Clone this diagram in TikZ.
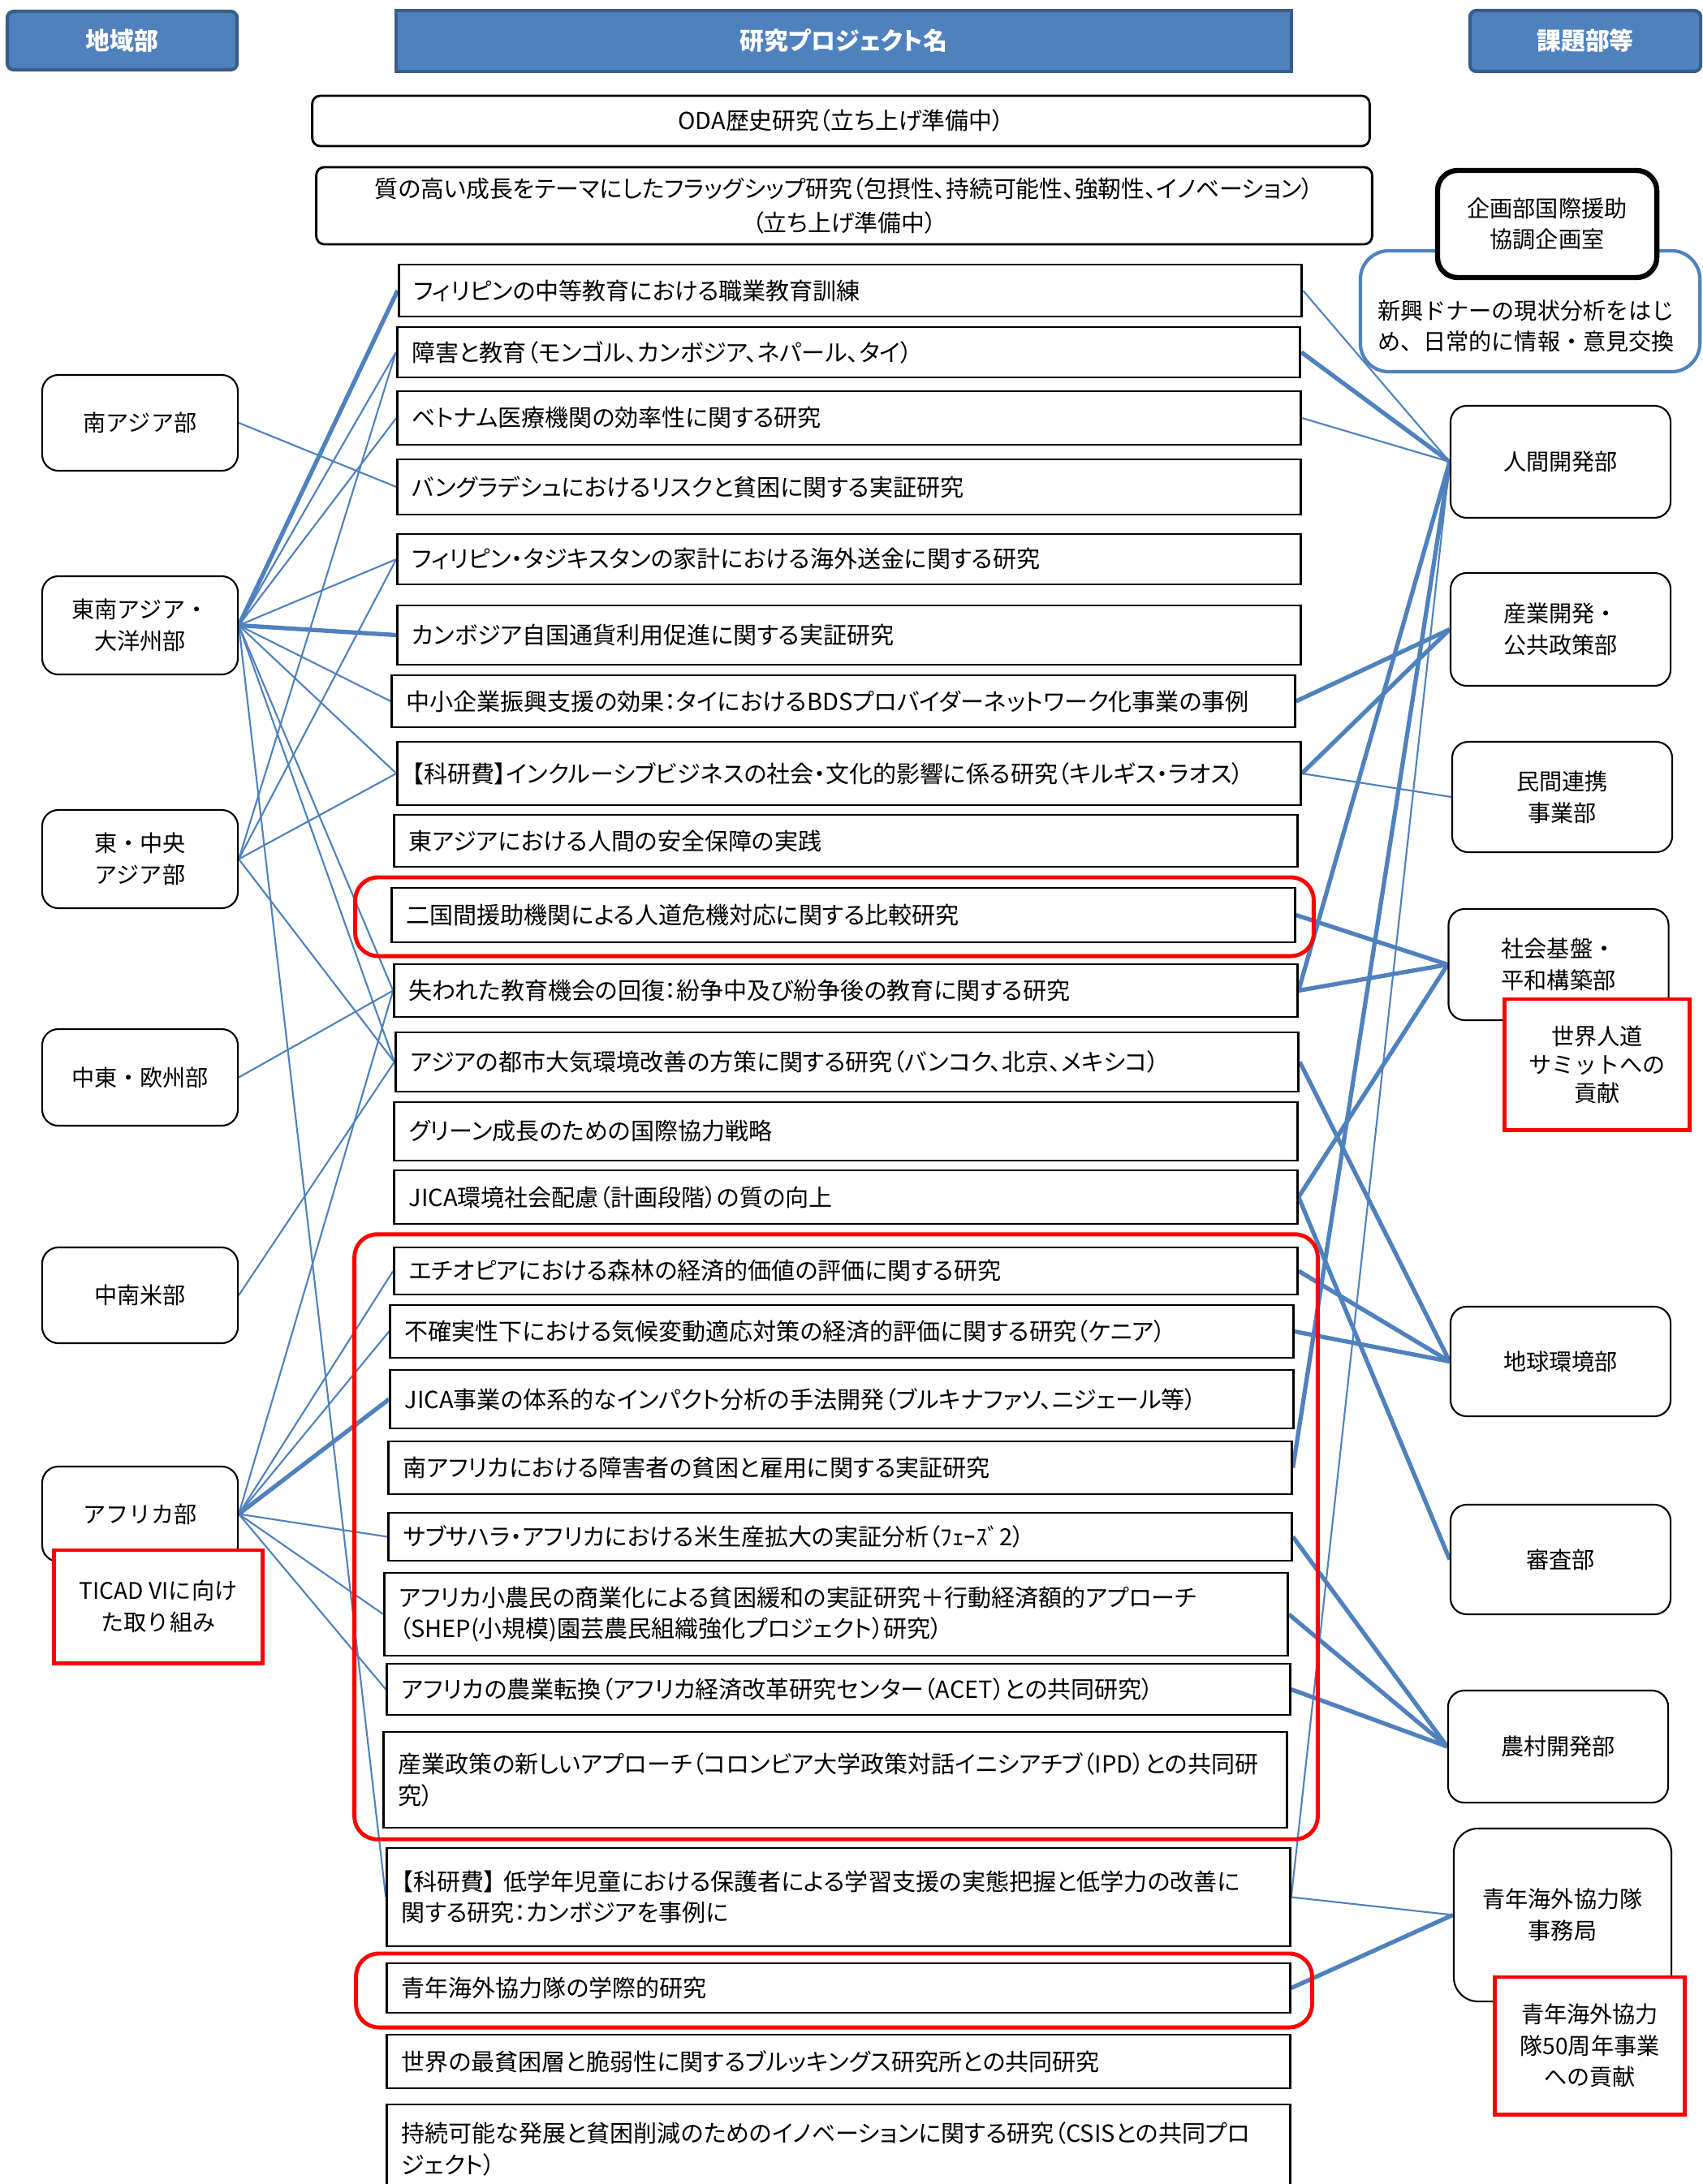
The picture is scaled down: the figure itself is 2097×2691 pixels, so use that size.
\documentclass[tikz,border=0pt]{standalone}
\usepackage{fontspec}
\setmainfont{Noto Sans CJK JP}[RawFeature=+palt]
\newfontfamily\deptfont{Noto Sans CJK JP}
\usetikzlibrary{backgrounds}
\definecolor{linkblue}{HTML}{4F81BD}
\definecolor{headedge}{HTML}{385D8A}
\definecolor{notered}{HTML}{FF0000}

\tikzset{
  head/.style={draw=headedge, line width=1.2pt, fill=linkblue, rounded corners=0.08cm, text=white, font=\bfseries\fontsize{8.5}{10}\selectfont},
  topbox/.style={draw, line width=0.8pt, rounded corners=0.1cm, align=center, font=\fontsize{8.2}{12}\selectfont},
  proj/.style={draw, line width=0.8pt, fill=white, text width=10.76cm, align=left, inner xsep=0.18cm, inner ysep=0pt, font=\fontsize{8.25}{11}\selectfont},
  dept/.style={draw, line width=0.6pt, fill=white, rounded corners=0.2cm, align=center, font=\deptfont\fontsize{8}{11}\selectfont},
  note/.style={draw=notered, line width=1.4pt, fill=white, align=center, font=\deptfont\fontsize{8}{11}\selectfont},
  redframe/.style={draw=notered, line width=1.4pt, rounded corners=0.28cm},
  tie/.style={draw=linkblue, line width=0.6pt},
  tiebold/.style={draw=linkblue, line width=1.5pt},
}

\begin{document}
\begin{tikzpicture}[x=0.01cm, y=-0.01cm]
        \useasboundingbox (0,0) rectangle (2097,2691);

        \node[head, minimum width=2.83cm, minimum height=0.72cm] (hregion) at (150.5,50) {地域部};
        \node[head, rounded corners=0pt, minimum width=11.03cm, minimum height=0.75cm] (hproject) at (1039.5,50.5) {研究プロジェクト名};
        \node[head, minimum width=2.84cm, minimum height=0.75cm] (htopic) at (1953,50.5) {課題部等};

        \node[topbox, minimum width=13.02cm, minimum height=0.62cm] (oda) at (1036,149) {ODA歴史研究（立ち上げ準備中）};
        \node[topbox, minimum width=13.00cm, minimum height=0.95cm] (flagship) at (1040,253.5) {質の高い成長をテーマにしたフラッグシップ研究（包摂性、持続可能性、強靭性、イノベーション）\\（立ち上げ準備中）};

        \node[draw=linkblue, line width=1.2pt, rounded corners=0.35cm, fill=white, minimum width=4.18cm, minimum height=1.49cm] (donor) at (1885,383.5) {};
        \node[font=\deptfont\fontsize{8}{11}\selectfont, align=left] (donortext) at (1880,402) {新興ドナーの現状分析をはじ\\め、日常的に情報・意見交換};
        \node[dept, line width=1.8pt, rounded corners=0.25cm, minimum width=2.70cm, minimum height=1.32cm] (plan) at (1906,276) {企画部国際援助\\協調企画室};

        \node[proj, minimum height=0.64cm] (p1) at (1047.5,358) {フィリピンの中等教育における職業教育訓練};
        \node[proj, minimum height=0.62cm] (p2) at (1045.5,434) {障害と教育（モンゴル、カンボジア、ネパール、タイ）};
        \node[proj, minimum height=0.66cm] (p3) at (1046,515) {ベトナム医療機関の効率性に関する研究};
        \node[proj, minimum height=0.68cm] (p4) at (1046,600) {バングラデシュにおけるリスクと貧困に関する実証研究};
        \node[proj, minimum height=0.62cm] (p5) at (1046,689) {フィリピン・タジキスタンの家計における海外送金に関する研究};
        \node[proj, minimum height=0.73cm] (p6) at (1046,782.5) {カンボジア自国通貨利用促進に関する実証研究};
        \node[proj, minimum height=0.64cm] (p7) at (1039,864) {中小企業振興支援の効果：タイにおけるBDSプロバイダーネットワーク化事業の事例};
        \node[proj, minimum height=0.78cm] (p8) at (1046,953) {【科研費】インクルーシブビジネスの社会・文化的影響に係る研究（キルギス・ラオス）};
        \node[proj, minimum height=0.64cm] (p9) at (1042,1036) {東アジアにおける人間の安全保障の実践};
        \node[proj, minimum height=0.67cm] (p10) at (1039,1127.5) {二国間援助機関による人道危機対応に関する比較研究};
        \node[proj, minimum height=0.65cm] (p11) at (1042,1220.5) {失われた教育機会の回復：紛争中及び紛争後の教育に関する研究};
        \node[proj, minimum height=0.73cm] (p12) at (1043.5,1308.5) {アジアの都市大気環境改善の方策に関する研究（バンコク、北京、メキシコ）};
        \node[proj, minimum height=0.72cm] (p13) at (1042,1394) {グリーン成長のための国際協力戦略};
        \node[proj, minimum height=0.66cm] (p14) at (1042,1475) {JICA環境社会配慮（計画段階）の質の向上};
        \node[proj, minimum height=0.58cm] (p15) at (1042,1566) {エチオピアにおける森林の経済的価値の評価に関する研究};
        \node[proj, minimum height=0.65cm] (p16) at (1037,1640.5) {不確実性下における気候変動適応対策の経済的評価に関する研究（ケニア）};
        \node[proj, minimum height=0.72cm] (p17) at (1037,1724) {JICA事業の体系的なインパクト分析の手法開発（ブルキナファソ、ニジェール等）};
        \node[proj, minimum height=0.65cm] (p18) at (1035,1808.5) {南アフリカにおける障害者の貧困と雇用に関する実証研究};
        \node[proj, minimum height=0.59cm] (p19) at (1035,1893.5) {サブサハラ・アフリカにおける米生産拡大の実証分析（ﾌｪｰｽﾞ2）};
        \node[proj, minimum height=1.02cm] (p20) at (1030,1989) {アフリカ小農民の商業化による貧困緩和の実証研究＋行動経済額的アプローチ\\（SHEP(小規模)園芸農民組織強化プロジェクト）研究）};
        \node[proj, minimum height=0.63cm] (p21) at (1033,2081.5) {アフリカの農業転換（アフリカ経済改革研究センター（ACET）との共同研究）};
        \node[proj, minimum height=1.18cm] (p22) at (1029,2193) {産業政策の新しいアプローチ（コロンビア大学政策対話イニシアチブ（IPD）との共同研\\究）};
        \node[proj, minimum height=1.21cm] (p23) at (1033,2337.5) {【科研費】~低学年児童における保護者による学習支援の実態把握と低学力の改善に\\関する研究：カンボジアを事例に};
        \node[proj, minimum height=0.61cm] (p24) at (1033,2449.5) {青年海外協力隊の学際的研究};
        \node[proj, minimum height=0.66cm] (p25) at (1033,2540) {世界の最貧困層と脆弱性に関するブルッキングス研究所との共同研究};
        \node[proj, minimum height=1.10cm] (p26) at (1033,2648) {持続可能な発展と貧困削減のためのイノベーションに関する研究（CSISとの共同プロ\\ジェクト）};

        \node[redframe, minimum width=11.80cm, minimum height=0.97cm] (fr10) at (1028,1129.5) {};
        \node[redframe, minimum width=11.86cm, minimum height=7.45cm] (frafrica) at (1030,1893.5) {};
        \node[redframe, minimum width=11.77cm, minimum height=0.91cm] (fr24) at (1027.5,2452.5) {};

        \node[dept, minimum width=2.41cm, minimum height=1.18cm] (sa) at (172.5,521) {南アジア部};
        \node[dept, minimum width=2.41cm, minimum height=1.21cm] (sea) at (172.5,770.5) {東南アジア・\\大洋州部};
        \node[dept, minimum width=2.41cm, minimum height=1.21cm] (eca) at (172.5,1058.5) {東・中央\\アジア部};
        \node[dept, minimum width=2.41cm, minimum height=1.19cm] (mee) at (172.5,1327.5) {中東・欧州部};
        \node[dept, minimum width=2.41cm, minimum height=1.18cm] (lac) at (172.5,1596) {中南米部};
        \node[dept, minimum width=2.41cm, minimum height=1.17cm] (afr) at (172.5,1865.5) {アフリカ部};
        \node[note, minimum width=2.56cm, minimum height=1.39cm] (ticad) at (195,1979.5) {TICAD VIに向け\\た取り組み};

        \node[dept, minimum width=2.71cm, minimum height=1.38cm] (hd) at (1922.5,569) {人間開発部};
        \node[dept, minimum width=2.71cm, minimum height=1.39cm] (id) at (1922.5,775.5) {産業開発・\\公共政策部};
        \node[dept, minimum width=2.71cm, minimum height=1.36cm] (pp) at (1924.5,982) {民間連携\\事業部};
        \node[dept, minimum width=2.71cm, minimum height=1.37cm] (sp) at (1920,1188.5) {社会基盤・\\平和構築部};
        \node[note, minimum width=2.27cm, minimum height=1.61cm, font=\deptfont\fontsize{8}{10}\selectfont] (whs) at (1967.5,1311.5) {世界人道\\サミットへの\\貢献};
        \node[dept, minimum width=2.71cm, minimum height=1.35cm] (ge) at (1922.5,1677.5) {地球環境部};
        \node[dept, minimum width=2.71cm, minimum height=1.35cm] (rv) at (1922.5,1921.5) {審査部};
        \node[dept, minimum width=2.71cm, minimum height=1.38cm] (rd) at (1919.5,2152) {農村開発部};
        \node[dept, rounded corners=0.3cm, minimum width=2.68cm, minimum height=2.13cm] (jv) at (1925,2359.5) {青年海外協力隊\\事務局};
        \node[note, minimum width=2.33cm, minimum height=1.69cm] (jv50) at (1958.5,2520.5) {青年海外協力\\隊50周年事業\\への貢献};

        \begin{pgfonlayer}{background}
            \draw[tie] (sa.east) -- (p4.west);
            \draw[tiebold] (sea.east) -- (p1.west);
            \draw[tie] (sea.east) -- (p2.west);
            \draw[tie] (sea.east) -- (p3.west);
            \draw[tie] (sea.east) -- (p5.west);
            \draw[tiebold] (sea.east) -- (p6.west);
            \draw[tie] (sea.east) -- (p7.west);
            \draw[tie] (sea.east) -- (p8.west);
            \draw[tie] (sea.east) -- (p11.west);
            \draw[tie] (sea.east) -- (p12.west);
            \draw[tie] (sea.east) -- (p23.west);
            \draw[tie] (eca.east) -- (p2.west);
            \draw[tie] (eca.east) -- (p5.west);
            \draw[tie] (eca.east) -- (p8.west);
            \draw[tie] (eca.east) -- (p12.west);
            \draw[tie] (mee.east) -- (p11.west);
            \draw[tie] (lac.east) -- (p12.west);
            \draw[tie] (afr.east) -- (p11.west);
            \draw[tie] (afr.east) -- (p15.west);
            \draw[tie] (afr.east) -- (p16.west);
            \draw[tiebold] (afr.east) -- (p17.west);
            \draw[tie] (afr.east) -- (p19.west);
            \draw[tie] (afr.east) -- (p20.west);
            \draw[tie] (afr.east) -- (p21.west);

            \draw[tie] (hd.west) -- (p1.east);
            \draw[tiebold] (hd.west) -- (p2.east);
            \draw[tie] (hd.west) -- (p3.east);
            \draw[tiebold] (hd.west) -- (p11.east);
            \draw[tiebold] (hd.west) -- (p18.east);
            \draw[tie] (hd.west) -- (p23.east);
            \draw[tiebold] (id.west) -- (p7.east);
            \draw[tiebold] (id.west) -- (p8.east);
            \draw[tie] (pp.west) -- (p8.east);
            \draw[tiebold] (sp.west) -- (p10.east);
            \draw[tiebold] (sp.west) -- (p11.east);
            \draw[tiebold] (sp.west) -- (p14.east);
            \draw[tiebold] (ge.west) -- (p12.east);
            \draw[tiebold] (ge.west) -- (p15.east);
            \draw[tiebold] (ge.west) -- (p16.east);
            \draw[tiebold] (rv.west) -- (p14.east);
            \draw[tiebold] (rd.west) -- (p19.east);
            \draw[tiebold] (rd.west) -- (p20.east);
            \draw[tiebold] (rd.west) -- (p21.east);
            \draw[tie] (jv.west) -- (p23.east);
            \draw[tiebold] (jv.west) -- (p24.east);
        \end{pgfonlayer}
\end{tikzpicture}
\end{document}
